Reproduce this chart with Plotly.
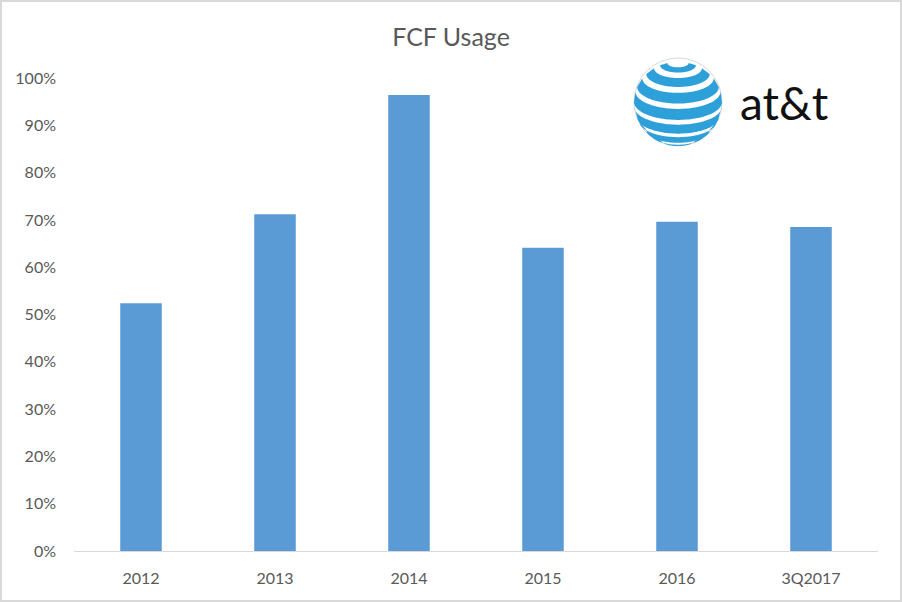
import numpy as np
import plotly.graph_objects as go

categories = ["2012", "2013", "2014", "2015", "2016", "3Q2017"]
fcf_usage = [0.524, 0.712, 0.964, 0.641, 0.696, 0.685]
y_ticks = [0, 0.1, 0.2, 0.3, 0.4, 0.5, 0.6, 0.7, 0.8, 0.9, 1.0]

W, H = 902, 602
L, R_, T, B = 74, 24, 78, 51
PW, PH = W - L - R_, H - T - B

def px2paper(px, py):
    return (px - L) / PW, (H - B - py) / PH

fig = go.Figure()
fig.add_trace(go.Bar(x=categories, y=fcf_usage, marker_color="#5b9bd5",
                     marker_line_width=0, hoverinfo="x+y"))

shapes = []
# outer border
x0, y0 = px2paper(1, 1)
x1, y1 = px2paper(W - 1, H - 1)
shapes.append(dict(type="rect", xref="paper", yref="paper", x0=x0, y0=y1, x1=x1, y1=y0,
                   line=dict(color="#d9d9d9", width=2), layer="above"))

# AT&T globe logo (decoration)
cx, cy, Rg = 678, 102, 44
gx0, gy0 = px2paper(cx - Rg, cy + Rg)
gx1, gy1 = px2paper(cx + Rg, cy - Rg)
shapes.append(dict(type="circle", xref="paper", yref="paper", x0=gx0, y0=gy0, x1=gx1, y1=gy1,
                   fillcolor="white", line=dict(color="#d8d8d8", width=1), layer="above"))
tilt = np.radians(24)
lam = np.radians(np.linspace(-90, 90, 60))
bands = [(66, 76), (44, 57), (22, 36), (0, 15), (-22, -7), (-44, -29), (-66, -52)]
for a, b in bands:
    pts = []
    for phi, ls in ((np.radians(a), lam), (np.radians(b), lam[::-1])):
        xs = Rg * np.cos(phi) * np.sin(ls)
        ys = Rg * np.sin(phi) * np.cos(tilt) - Rg * np.cos(phi) * np.cos(ls) * np.sin(tilt)
        for xx, yy in zip(xs, ys):
            pts.append(px2paper(cx + xx, cy - yy))
    path = "M " + " L ".join(f"{p[0]:.5f},{p[1]:.5f}" for p in pts) + " Z"
    shapes.append(dict(type="path", xref="paper", yref="paper", path=path,
                       fillcolor="#2d9fd9", line=dict(width=0), layer="above"))

tx, ty = px2paper(784, 102)
annotations = [dict(text="at&t", x=tx, y=ty, xref="paper", yref="paper", showarrow=False,
                    font=dict(family="Lato, Open Sans, sans-serif", size=46, color="#111111"),
                    xanchor="center", yanchor="middle")]

fig.update_layout(
    width=W, height=H,
    margin=dict(l=L, r=R_, t=T, b=B, pad=0),
    paper_bgcolor="white", plot_bgcolor="white",
    title=dict(text="FCF Usage", x=0.5, xref="container", xanchor="center",
               y=1 - 37 / H, yanchor="middle",
               font=dict(family="Lato, Open Sans, sans-serif", size=25, color="#595959")),
    font=dict(family="Lato, Open Sans, sans-serif", size=16, color="#595959"),
    bargap=0.69,
    showlegend=False,
    xaxis=dict(showgrid=False, showline=True, linecolor="#d9d9d9", linewidth=1,
               ticks="", ticklabelstandoff=13, tickfont=dict(size=16, color="#595959"),
               fixedrange=True),
    yaxis=dict(range=[0, 1.0], tickvals=y_ticks, tickformat=".0%", showgrid=False,
               zeroline=False, showline=False, ticks="", ticklabelstandoff=17,
               tickfont=dict(size=16, color="#595959"), fixedrange=True),
    shapes=shapes,
    annotations=annotations,
)

fig.write_html("out.html")
